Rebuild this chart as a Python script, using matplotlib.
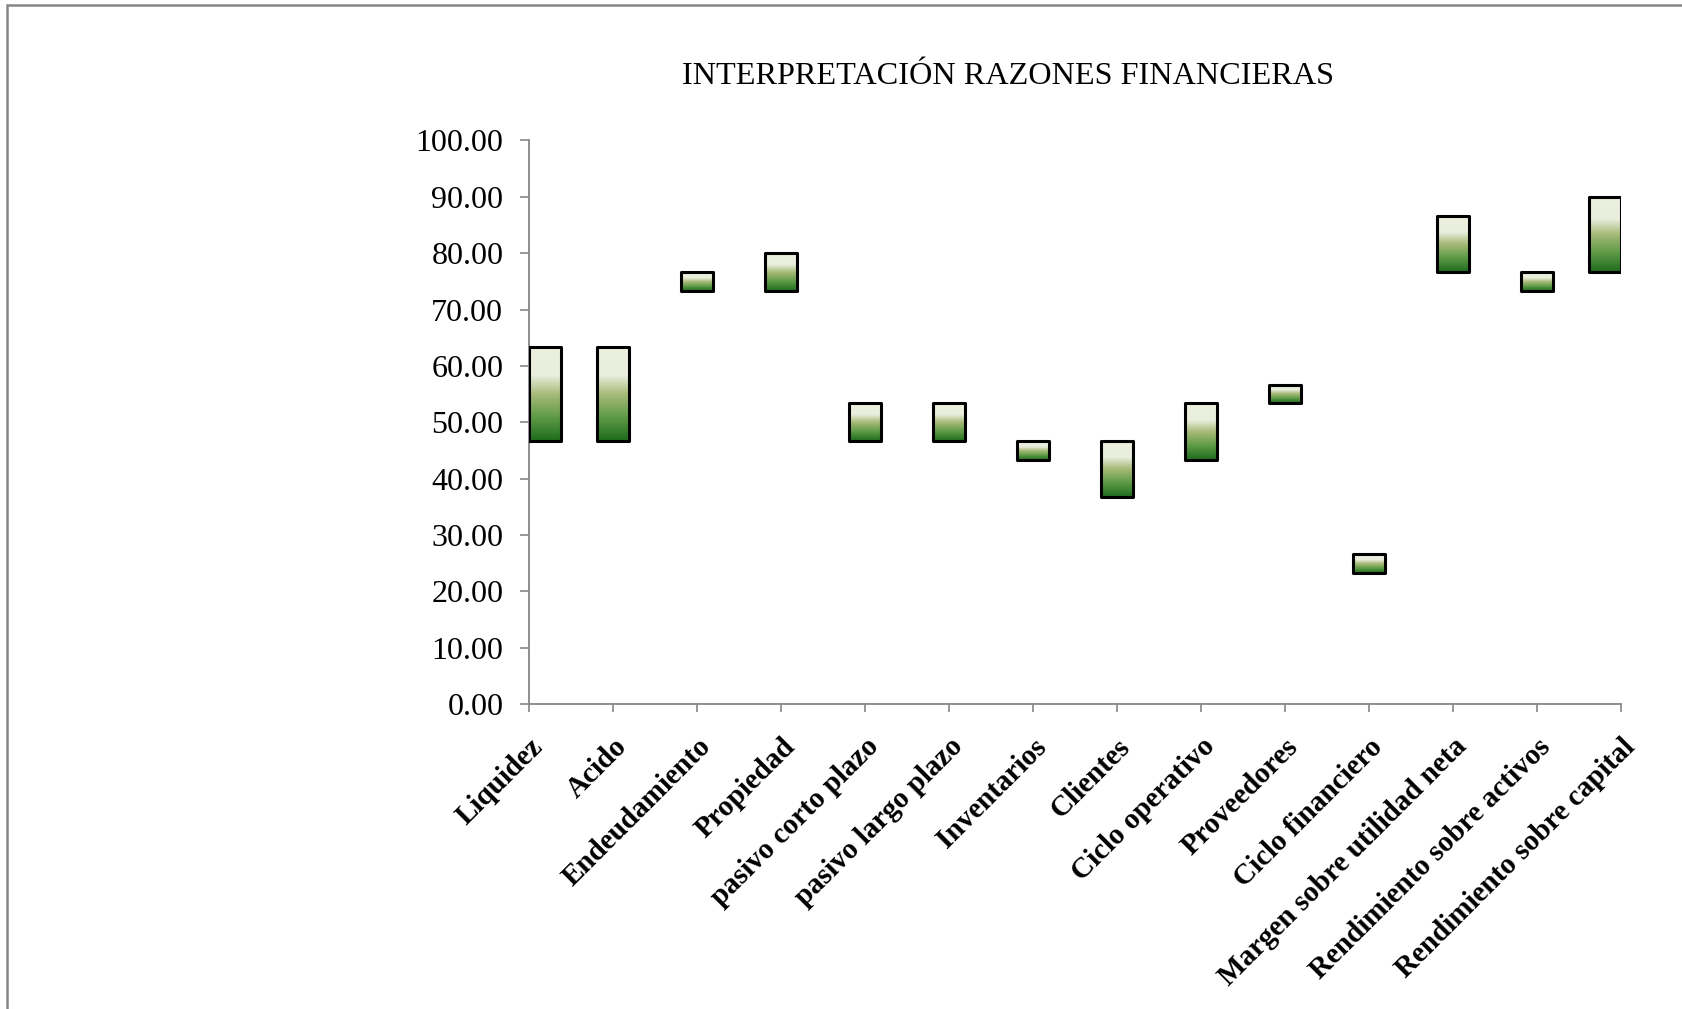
import numpy as np
import matplotlib
matplotlib.use('Agg')
import matplotlib.pyplot as plt
from matplotlib.colors import LinearSegmentedColormap
from matplotlib.patches import Rectangle

plt.rcParams['font.family'] = ['Liberation Serif', 'DejaVu Serif']

titulo = 'INTERPRETACIÓN RAZONES FINANCIERAS'
categorias = ['Liquidez', 'Acido', 'Endeudamiento', 'Propiedad', 'pasivo corto plazo',
              'pasivo largo plazo', 'Inventarios', 'Clientes', 'Ciclo operativo',
              'Proveedores', 'Ciclo financiero', 'Margen sobre utilidad neta',
              'Rendimiento sobre activos', 'Rendimiento sobre capital']
minimo = [46.67, 46.67, 73.33, 73.33, 46.67, 46.67, 43.33, 36.67, 43.33,
          53.33, 23.33, 76.67, 73.33, 76.67]
maximo = [63.33, 63.33, 76.67, 80.00, 53.33, 53.33, 46.67, 46.67, 53.33,
          56.67, 26.67, 86.67, 76.67, 90.00]
yticks = np.arange(0, 101, 10)

# light on top, dark green at the bottom
cmap = LinearSegmentedColormap.from_list('verde', [
    (0.0, '#1d6b1d'), (0.25, '#5e9a45'), (0.5, '#a8bb7a'),
    (0.7, '#e9eedd'), (1.0, '#ebf0df')])
grad = np.linspace(0, 1, 256).reshape(-1, 1)

fig = plt.figure(figsize=(16.83, 10.09), dpi=100)
ax = fig.add_axes([0.3143, 0.3023, 0.6489, 0.5585])

n = len(categorias)
x = np.arange(n)
w = 0.38
for xi, lo, hi in zip(x, minimo, maximo):
    x0 = min(max(xi - w / 2, 0), n - 1 - w)
    ax.imshow(grad, extent=[x0, x0 + w, lo, hi], origin='lower', cmap=cmap,
              aspect='auto', zorder=2, interpolation='bilinear')
    ax.add_patch(Rectangle((x0, lo), w, hi - lo, fill=False, edgecolor='black',
                           linewidth=2.2, zorder=3, joinstyle='round'))

ax.set_xlim(0, n - 1)
ax.set_ylim(0, 100)
ax.set_xticks(x)
ax.set_xticklabels(categorias, rotation=45, ha='right', va='top',
                   rotation_mode='anchor', fontsize=21, fontweight='bold')
ax.set_yticks(yticks)
ax.set_yticklabels(['%.2f' % v for v in yticks], fontsize=23)

for s in ['top', 'right']:
    ax.spines[s].set_visible(False)
for s in ['left', 'bottom']:
    ax.spines[s].set_color('#868686')
    ax.spines[s].set_linewidth(1.3)
ax.tick_params(axis='y', direction='out', length=6.5, width=1.2, color='#868686', pad=12)
ax.tick_params(axis='x', direction='out', length=6, width=1.2, color='#868686', pad=15)
ax.set_facecolor('none')

fig.text(0.599, 0.924, titulo, ha='center', va='center', fontsize=23.2)

# chart frame (top and left edges visible)
fig.add_artist(Rectangle((7.5 / 1683, -0.05), 1.1, 1 - 5 / 1009 + 0.05,
                         transform=fig.transFigure, fill=False,
                         edgecolor='#868686', linewidth=1.8))

plt.savefig('out.png', dpi=100)
